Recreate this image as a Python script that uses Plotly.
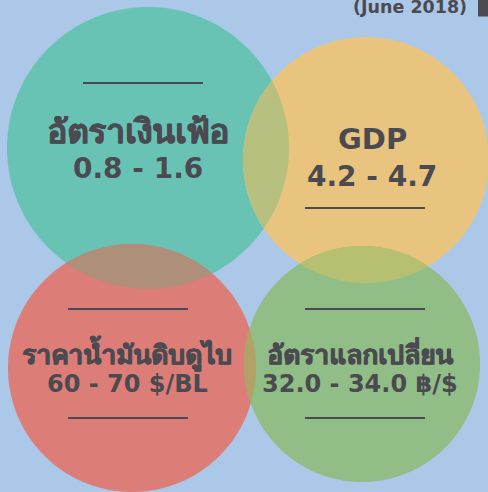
import numpy as np
import plotly.graph_objects as go

# ---- data ----
titles = ["อัตราเงินเฟ้อ", "GDP", "ราคาน้ำมันดิบดูไบ", "อัตราแลกเปลี่ยน"]
ranges = ["0.8 - 1.6", "4.2 - 4.7", "60 - 70 $/BL", "32.0 - 34.0 ฿/$"]
date_label = "(June 2018)"

# ---- layout / style ----
W, H = 488, 492
BG = "#ABC8E8"
TXT = "#4A4A50"
circles = [  # cx, cy, r, color
    (148, 148, 141, "#69C3B5"),
    (366, 160, 123, "#E8C47F"),
    (132, 368, 124, "#DC7E77"),
    (362, 364, 118, "#90BE86"),
]
overlaps = [  # (i, j, color)
    (0, 1, "#B7C07F"),
    (0, 2, "#AE8F7A"),
    (1, 3, "#B7BF70"),
    (2, 3, "#B3A268"),
]
# text blocks: text cx, title y, value y, title size, value size, line cx, line ys
blocks = [
    (138, 131, 168, 33, 28, 143, [83]),
    (372, 139, 176, 29, 28, 365, [208]),
    (127, 353, 384, 26, 24, 128, [309, 418]),
    (360, 353, 384, 26, 24, 365, [309, 418]),
]
LINE_HALF = 60

fig = go.Figure()


def circle_pts(cx, cy, r, a0, a1, n=120):
    t = np.linspace(a0, a1, n)
    return cx + r * np.cos(t), cy + r * np.sin(t)


for cx, cy, r, col in circles:
    x, y = circle_pts(cx, cy, r, 0, 2 * np.pi, 240)
    fig.add_trace(go.Scatter(x=x, y=y, fill="toself", fillcolor=col, mode="none",
                             hoverinfo="skip", showlegend=False))

for i, j, col in overlaps:
    c1x, c1y, r1, _ = circles[i]
    c2x, c2y, r2, _ = circles[j]
    dx, dy = c2x - c1x, c2y - c1y
    d = np.hypot(dx, dy)
    th0 = np.arctan2(dy, dx)
    a1 = np.arccos((d * d + r1 * r1 - r2 * r2) / (2 * d * r1))
    a2 = np.arccos((d * d + r2 * r2 - r1 * r1) / (2 * d * r2))
    x1, y1 = circle_pts(c1x, c1y, r1, th0 - a1, th0 + a1)
    ph0 = th0 + np.pi
    x2, y2 = circle_pts(c2x, c2y, r2, ph0 - a2, ph0 + a2)
    fig.add_trace(go.Scatter(x=np.concatenate([x1, x2]), y=np.concatenate([y1, y2]),
                             fill="toself", fillcolor=col, mode="none",
                             hoverinfo="skip", showlegend=False))

FONT = "DejaVu Sans, Liberation Sans, Noto Sans, sans-serif"
THICK = "0.5px 0 0 %s, -0.5px 0 0 %s" % (TXT, TXT)
for k, (cx, ty, vy, fs, fs2, lcx, lys) in enumerate(blocks):
    fig.add_annotation(x=cx, y=ty, text="<b>%s</b>" % titles[k], showarrow=False,
                       xanchor="center", yanchor="middle",
                       font=dict(size=fs, color=TXT, family=FONT,
                                 shadow=THICK if k != 1 else "none"))
    fig.add_annotation(x=cx, y=vy, text="<b>%s</b>" % ranges[k], showarrow=False,
                       xanchor="center", yanchor="middle",
                       font=dict(size=fs2, color=TXT, family=FONT))
    for ly in lys:
        fig.add_shape(type="line", x0=lcx - LINE_HALF, x1=lcx + LINE_HALF, y0=ly, y1=ly,
                      line=dict(color=TXT, width=2))

fig.add_annotation(x=469, y=7, text="<b>%s</b>" % date_label, showarrow=False,
                   xanchor="right", yanchor="middle",
                   font=dict(size=17.5, color=TXT, family=FONT))
fig.add_shape(type="rect", x0=478, x1=490, y0=-2, y1=16.5, fillcolor=TXT,
              line=dict(width=0))

fig.update_layout(
    width=W, height=H, margin=dict(l=0, r=0, t=0, b=0),
    paper_bgcolor=BG, plot_bgcolor=BG,
    xaxis=dict(range=[0, W], visible=False, fixedrange=True),
    yaxis=dict(range=[H, 0], visible=False, fixedrange=True),
    showlegend=False,
)
html = fig.to_html(config={"displayModeBar": False}, include_plotlyjs=True, full_html=True)
html = html.replace("<head>", "<head><style>html,body{margin:0;padding:0;overflow:hidden;background:%s}</style>" % BG, 1)
with open("out.html", "w", encoding="utf-8") as f:
    f.write(html)
